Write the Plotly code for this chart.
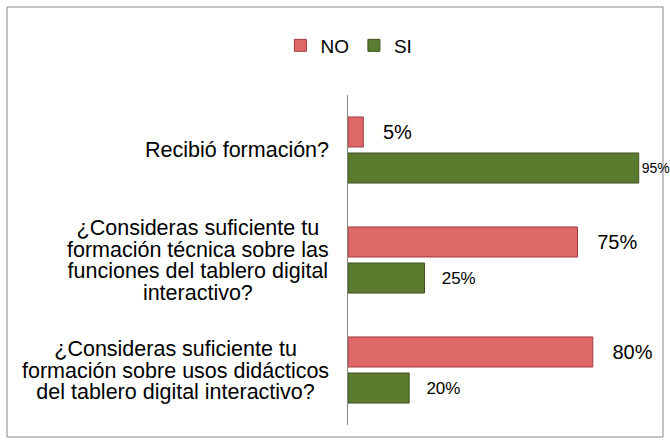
import plotly.graph_objects as go

categories = [
    "Recibió formación?",
    "¿Consideras suficiente tu<br>formación técnica sobre las<br>funciones del tablero digital<br>interactivo?",
    "¿Consideras suficiente tu<br>formación sobre usos didácticos<br>del tablero digital interactivo?",
]
no_values = [0.05, 0.75, 0.80]
si_values = [0.95, 0.25, 0.20]
series_names = ["NO", "SI"]

FONT = "Liberation Sans, Arial, sans-serif"
NB = "\u00a0"

fig = go.Figure()
fig.add_trace(go.Bar(
    name=series_names[0], y=categories, x=no_values, orientation="h",
    marker=dict(color="#DF6868", line=dict(color="#A33B3B", width=1)),
    texttemplate=NB * 3 + "%{x:.0%}", textposition="outside",
    textfont=dict(family=FONT, size=20, color="#000000"),
    cliponaxis=False, hoverinfo="x+name",
))
fig.add_trace(go.Bar(
    name=series_names[1], y=categories, x=si_values, orientation="h",
    marker=dict(color="#5B7B2F", line=dict(color="#3D5220", width=1)),
    texttemplate=["%{x:.0%}", NB * 3 + "%{x:.0%}", NB * 3 + "%{x:.0%}"],
    textposition="outside",
    textfont=dict(family=FONT, size=[14, 17, 17], color="#000000"),
    cliponaxis=False, hoverinfo="x+name",
))

# category labels: glyphs at 21.5px, line spacing ~21.7px (Excel-like tight leading)
annotations = [
    dict(text='<span style="font-size:21.5px">' + c + "</span>",
         x=0, y=c, xref="paper", yref="y", xanchor="right", yanchor="middle",
         xshift=-17, align="center", showarrow=False,
         font=dict(family=FONT, size=16.7, color="#000000"))
    for c in categories
]

fig.update_layout(
    width=670, height=447,
    margin=dict(l=348, r=16, t=95, b=22),
    paper_bgcolor="white", plot_bgcolor="white",
    barmode="group", bargap=0.345, bargroupgap=0.167,
    font=dict(family=FONT, size=18, color="#000000"),
    xaxis=dict(range=[0, 1], visible=False, fixedrange=True),
    yaxis=dict(autorange="reversed", showticklabels=False, ticks="",
               showline=True, linecolor="#868686", linewidth=1,
               showgrid=False, zeroline=False),
    legend=dict(orientation="h", x=0.003, xanchor="center", y=1.15, yanchor="middle",
                font=dict(family=FONT, size=19), itemwidth=30, traceorder="normal"),
    showlegend=True,
    annotations=annotations,
    shapes=[dict(type="rect", xref="paper", yref="paper",
                 x0=(7 - 348) / 306, x1=(663 - 348) / 306,
                 y0=(425 - 437) / 330, y1=(425 - 7) / 330,
                 line=dict(color="#868686", width=1), fillcolor="rgba(0,0,0,0)",
                 layer="below")],
)

fig.write_html("out.html", config={"displayModeBar": False},
               post_script="document.body.style.margin='0';document.body.style.overflow='hidden';")
